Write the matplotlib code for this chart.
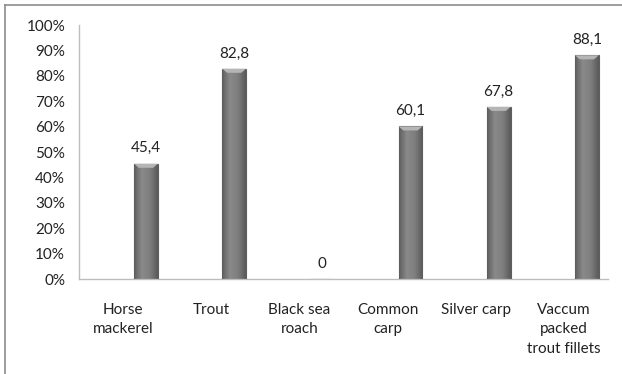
import numpy as np
import matplotlib.pyplot as plt
from matplotlib.lines import Line2D
from matplotlib.colors import LinearSegmentedColormap

categories = ['Horse\nmackerel', 'Trout', 'Black sea\nroach', 'Common\ncarp',
              'Silver carp', 'Vaccum\npacked\ntrout fillets']
values = [45.4, 82.8, 0, 60.1, 67.8, 88.1]
value_labels = ['45,4', '82,8', '0', '60,1', '67,8', '88,1']
y_ticks = [0, 10, 20, 30, 40, 50, 60, 70, 80, 90, 100]

plt.rcParams['font.family'] = ['Lato', 'DejaVu Sans']

fig = plt.figure(figsize=(6.22, 3.74), dpi=100)
ax = fig.add_axes([0.127, 0.254, 0.8505, 0.679])

x = np.arange(len(categories)) + 0.5
bar_x = x + 0.26
bar_w = 0.27

bars = ax.bar(bar_x, values, width=bar_w, color='none', edgecolor='#5e5e5e',
              linewidth=0.8, zorder=3)

# cylinder-like shading across each bar
shade = LinearSegmentedColormap.from_list('shade', ['#606060', '#8a8a8a', '#7e7e7e', '#5a5a5a'])
grad = np.linspace(0, 1, 64).reshape(1, -1)
for b in bars:
    h = b.get_height()
    if h <= 0:
        continue
    x0 = b.get_x()
    im = ax.imshow(grad, cmap=shade, aspect='auto', zorder=2,
                   extent=(x0, x0 + b.get_width(), 0, h))
    im.set_clip_path(b)
    # light bevel on top
    top = plt.Polygon([(x0, h), (x0 + b.get_width(), h),
                       (x0 + b.get_width() * 0.8, h - 1.6), (x0 + b.get_width() * 0.2, h - 1.6)],
                      closed=True, facecolor='#b5b5b5', edgecolor='none', zorder=3)
    ax.add_patch(top)

for bx, v, lab in zip(bar_x, values, value_labels):
    ax.annotate(lab, (bx, v), xytext=(0, 6), textcoords='offset points',
                ha='center', va='bottom', fontsize=11, color='#222222')

ax.set_xlim(0, len(categories))
ax.set_ylim(0, 100)
ax.set_yticks(y_ticks)
ax.set_yticklabels([f'{t}%' for t in y_ticks])
ax.set_xticks(x)
ax.set_xticklabels(categories, linespacing=1.5)
ax.tick_params(axis='both', length=0, labelsize=11, colors='#222222')
ax.tick_params(axis='x', pad=17)
ax.tick_params(axis='y', pad=10)

for side in ['top', 'right']:
    ax.spines[side].set_visible(False)
for side in ['left', 'bottom']:
    ax.spines[side].set_color('#bdbdbd')
    ax.spines[side].set_linewidth(1.0)

# chart frame
fig.add_artist(Line2D([5 / 622, 1], [1 - 5 / 374, 1 - 5 / 374], color='#8c8c8c', lw=1.2))
fig.add_artist(Line2D([5 / 622, 5 / 622], [0, 1 - 5 / 374], color='#8c8c8c', lw=1.2))

fig.savefig('out.png', dpi=100)
